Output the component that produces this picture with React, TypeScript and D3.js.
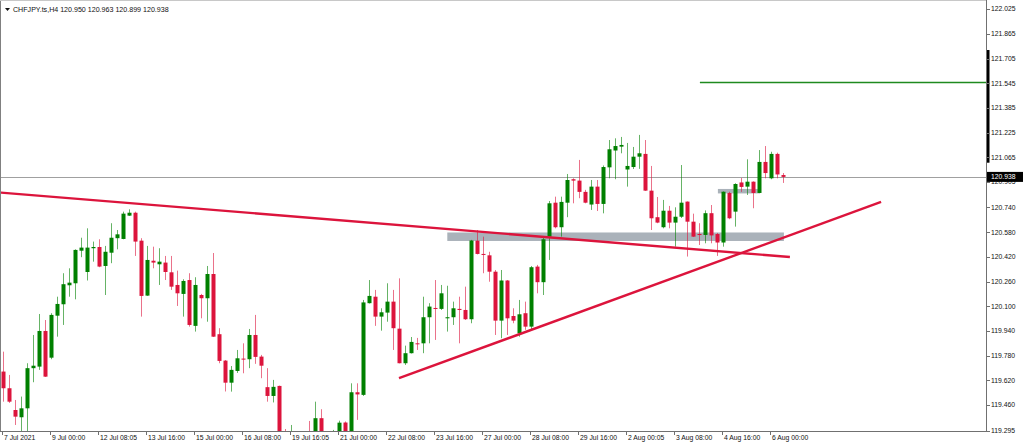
import React from "react";
import * as d3 from "d3";

// ---- data (H4 candles, CHFJPY) ----
const opens = [
  119.677, 119.569, 119.428, 119.381, 119.439, 119.699, 119.709, 119.940, 119.767, 120.039,
  120.113, 120.236, 120.249, 120.460, 120.322, 120.476, 120.484, 120.361, 120.447, 120.541,
  120.536, 120.687, 120.706, 120.525, 120.169, 120.395, 120.372, 120.383, 120.320, 120.238,
  120.180, 120.270, 119.973, 120.173, 120.152, 120.309, 119.919, 119.748, 119.605, 119.681,
  119.761, 119.757, 119.914, 119.774, 119.576, 119.519, 119.584, 119.286, 119.202, 119.182,
  119.234, 119.260, 119.195, 119.375, 119.247, 119.214, 119.253, 119.347, 119.260, 119.543,
  119.526, 120.120, 120.162, 120.033, 120.059, 120.130, 119.955, 119.731, 119.796, 119.860,
  119.860, 120.029, 120.089, 120.083, 120.022, 120.029, 120.083, 120.076, 120.016, 120.525,
  120.439, 120.430, 120.324, 120.007, 120.267, 120.037, 119.925, 120.055, 119.968, 120.357,
  120.256, 120.551, 120.771, 120.612, 120.771, 120.923, 120.914, 120.841, 120.759, 120.875,
  120.763, 121.000, 121.109, 121.134, 120.986, 121.002, 121.069, 121.087, 120.849, 120.677,
  120.612, 120.719, 120.642, 120.680, 120.778, 120.648, 120.568, 120.562, 120.703, 120.568,
  120.513, 120.834, 120.713, 120.902, 120.875, 120.907, 120.834, 121.035, 120.929, 121.087,
  120.950,
];
const highs = [
  119.806, 119.655, 119.493, 119.515, 119.731, 119.914, 120.050, 120.011, 120.055, 120.162,
  120.314, 120.346, 120.469, 120.544, 120.605, 120.519, 120.534, 120.491, 120.638, 120.594,
  120.713, 120.728, 120.713, 120.541, 120.491, 120.486, 120.476, 120.426, 120.426, 120.331,
  120.275, 120.314, 120.288, 120.180, 120.361, 120.445, 119.958, 119.752, 119.713, 119.817,
  119.860, 119.953, 120.044, 119.785, 119.699, 119.623, 119.586, 119.305, 119.331, 119.273,
  119.279, 119.357, 119.482, 119.433, 119.286, 119.299, 119.359, 119.354, 119.601, 119.601,
  120.141, 120.270, 120.206, 120.087, 120.249, 120.206, 120.281, 119.845, 119.901, 119.895,
  120.162, 120.120, 120.270, 120.238, 120.233, 120.130, 120.162, 120.227, 120.530, 120.594,
  120.551, 120.453, 120.335, 120.335, 120.270, 120.087, 120.141, 120.130, 120.361, 120.368,
  120.551, 120.782, 120.810, 120.810, 120.957, 120.929, 121.048, 120.854, 120.918, 120.918,
  121.012, 121.177, 121.188, 121.197, 121.158, 121.132, 121.210, 121.177, 121.009, 120.808,
  120.789, 120.750, 120.741, 121.015, 120.779, 120.700, 120.638, 120.721, 120.756, 120.575,
  120.844, 120.842, 120.897, 120.931, 121.052, 120.909, 121.112, 121.138, 121.101, 121.095,
  120.963,
];
const lows = [
  119.482, 119.474, 119.331, 119.260, 119.260, 119.608, 119.688, 119.642, 119.757, 119.903,
  119.979, 120.162, 120.145, 120.418, 120.267, 120.389, 120.353, 120.173, 120.379, 120.469,
  120.534, 120.685, 120.426, 120.033, 120.167, 120.346, 120.238, 120.270, 120.206, 120.102,
  120.033, 119.968, 119.936, 120.022, 120.000, 119.901, 119.731, 119.548, 119.547, 119.668,
  119.666, 119.699, 119.727, 119.634, 119.482, 119.477, 119.195, 119.234, 119.169, 119.137,
  119.156, 119.169, 119.176, 119.221, 119.182, 119.195, 119.234, 119.234, 119.247, 119.364,
  119.519, 120.118, 119.973, 119.942, 120.000, 119.817, 119.730, 119.720, 119.794, 119.817,
  119.796, 119.860, 119.882, 120.076, 119.936, 119.979, 119.860, 120.011, 119.990, 120.436,
  120.314, 120.259, 119.914, 119.893, 119.914, 119.990, 119.903, 119.947, 119.951, 120.184,
  120.173, 120.400, 120.605, 120.551, 120.677, 120.767, 120.800, 120.767, 120.724, 120.717,
  120.702, 120.929, 120.923, 121.091, 120.875, 120.989, 120.990, 120.847, 120.594, 120.638,
  120.605, 120.605, 120.486, 120.672, 120.422, 120.549, 120.497, 120.508, 120.508, 120.426,
  120.486, 120.664, 120.616, 120.841, 120.821, 120.735, 120.833, 120.929, 120.923, 120.929,
  120.899,
];
const closes = [
  119.569, 119.482, 119.385, 119.439, 119.699, 119.715, 119.940, 119.644, 120.044, 120.115,
  120.243, 120.253, 120.465, 120.480, 120.480, 120.484, 120.357, 120.453, 120.544, 120.566,
  120.700, 120.706, 120.519, 120.167, 120.400, 120.383, 120.389, 120.322, 120.227, 120.184,
  120.264, 119.979, 120.238, 120.152, 120.309, 119.903, 119.746, 119.605, 119.688, 119.763,
  119.756, 119.914, 119.772, 119.715, 119.519, 119.578, 119.234, 119.273, 119.260, 119.234,
  119.195, 119.208, 119.375, 119.247, 119.214, 119.253, 119.346, 119.260, 119.543, 119.529,
  120.125, 120.167, 120.033, 120.061, 120.130, 119.958, 119.731, 119.796, 119.869, 119.856,
  120.029, 120.098, 120.083, 120.184, 120.029, 120.087, 120.076, 120.016, 120.526, 120.439,
  120.434, 120.324, 120.007, 120.267, 120.022, 120.007, 120.048, 119.968, 120.353, 120.256,
  120.534, 120.767, 120.612, 120.776, 120.918, 120.914, 120.841, 120.771, 120.875, 120.763,
  121.002, 121.117, 121.138, 121.145, 121.009, 121.069, 121.091, 120.849, 120.670, 120.642,
  120.719, 120.642, 120.680, 120.771, 120.648, 120.551, 120.562, 120.703, 120.559, 120.513,
  120.842, 120.670, 120.892, 120.873, 120.907, 120.834, 121.035, 120.963, 121.087, 120.954,
  120.938,
];

const timeLabels = [
  "7 Jul 2021", "9 Jul 00:00", "12 Jul 08:05", "13 Jul 16:00", "15 Jul 00:00",
  "16 Jul 08:00", "19 Jul 16:05", "21 Jul 00:00", "22 Jul 08:00", "23 Jul 16:00",
  "27 Jul 00:00", "28 Jul 08:00", "29 Jul 16:00", "2 Aug 00:05", "3 Aug 08:00",
  "4 Aug 16:00", "6 Aug 00:00",
];
const timeLabelStep = 8;

const priceLabels = [
  "122.025", "121.865", "121.705", "121.545", "121.385", "121.225", "121.065", "120.905",
  "120.740", "120.580", "120.420", "120.260", "120.100", "119.940", "119.780", "119.620",
  "119.460", "119.295",
];

const symbolTitle = "CHFJPY.ts,H4";
const lastQuote = ["120.950", "120.963", "120.899", "120.938"];
const lastPrice = 120.938;

// trend lines (candle index, price)
const downTrend = [
  { i: -0.45, p: 120.837 },
  { i: 131.2, p: 120.419 },
];
const upTrend = [
  { i: 66.05, p: 119.634 },
  { i: 146.4, p: 120.776 },
];
// zones (rectangles)
const zones = [
  { i0: 74.1, i1: 130.2, p0: 120.578, p1: 120.523 },
  { i0: 119.2, i1: 126.2, p0: 120.86, p1: 120.831 },
];
const targetLevel = { i0: 116.2, p: 121.55 };
const axisMarker = { p0: 121.76, p1: 121.03 };

// ---- layout ----
const W = 1024;
const H = 447;
const plotRight = 986;
const plotBottom = 431;
const UP = "#008000";
const DOWN = "#DC143C";
const FONT = "'Liberation Sans', Arial, sans-serif";
const FS = 6.8;

export default function App() {
  const n = opens.length;
  const xs = d3.scaleLinear().domain([0, n - 1]).range([2.7, 2.7 + 6 * (n - 1)]);
  const ys = d3.scaleLinear().domain([119.292, 122.084]).range([plotBottom, 0]);
  const line = d3
    .line<{ i: number; p: number }>()
    .x((d) => xs(d.i))
    .y((d) => ys(d.p));

  const candles = d3.range(n).map((i) => {
    const px = Math.round(xs(i));
    const o = opens[i];
    const c = closes[i];
    const up = c >= o;
    const col = up ? UP : DOWN;
    const top = ys(Math.max(o, c));
    const bot = ys(Math.min(o, c));
    return (
      <g key={i}>
        <line
          x1={px + 0.5}
          x2={px + 0.5}
          y1={ys(highs[i])}
          y2={ys(lows[i])}
          stroke={col}
          strokeOpacity={0.6}
          strokeWidth={1}
        />
        <rect x={px - 1.5} y={top} width={4} height={Math.max(1, bot - top)} fill={col} />
      </g>
    );
  });

  return (
    <svg
      width={W}
      height={H}
      style={{ position: "absolute", left: 0, top: 0, background: "#fff" }}
      fontFamily={FONT}
    >
      <defs>
        <clipPath id="plot">
          <rect x={1} y={1} width={plotRight - 1} height={plotBottom - 1} />
        </clipPath>
      </defs>
      <rect x={0} y={0} width={W} height={H} fill="#fff" />

      <g clipPath="url(#plot)">
        {zones.map((z, k) => (
          <rect
            key={k}
            x={xs(z.i0)}
            y={ys(z.p0)}
            width={xs(z.i1) - xs(z.i0)}
            height={ys(z.p1) - ys(z.p0)}
            fill="#aab2ba"
          />
        ))}
        <line
          x1={0}
          x2={plotRight}
          y1={Math.round(ys(lastPrice)) + 0.5}
          y2={Math.round(ys(lastPrice)) + 0.5}
          stroke="#a0a0a0"
          strokeWidth={1}
        />
        {candles}
        <path d={line(downTrend) || ""} stroke={DOWN} strokeWidth={2.4} fill="none" />
        <path d={line(upTrend) || ""} stroke={DOWN} strokeWidth={2.4} fill="none" />
        <line
          x1={xs(targetLevel.i0)}
          x2={plotRight}
          y1={Math.round(ys(targetLevel.p)) + 0.5}
          y2={Math.round(ys(targetLevel.p)) + 0.5}
          stroke="#1f8a1f"
          strokeWidth={1.5}
        />
      </g>

      {/* frame */}
      <line x1={0.5} x2={0.5} y1={0} y2={plotBottom + 0.5} stroke="#808080" />
      <line x1={0} x2={plotRight + 0.5} y1={0.5} y2={0.5} stroke="#c8c8c8" />
      <line x1={0} x2={plotRight + 0.5} y1={plotBottom + 0.5} y2={plotBottom + 0.5} stroke="#707070" />
      <line x1={plotRight + 0.5} x2={plotRight + 0.5} y1={0} y2={plotBottom + 0.5} stroke="#707070" />

      {/* axis marker bar */}
      <rect
        x={plotRight + 1}
        y={ys(axisMarker.p0)}
        width={2.5}
        height={ys(axisMarker.p1) - ys(axisMarker.p0)}
        fill="#000"
      />

      {/* price axis */}
      {priceLabels.map((t) => {
        const y = ys(+t);
        return (
          <g key={t}>
            <line x1={plotRight} x2={plotRight + 4} y1={Math.round(y) + 0.5} y2={Math.round(y) + 0.5} stroke="#707070" />
            <text x={plotRight + 5} y={y} dy="0.35em" fontSize={FS} fill="#111">
              {t}
            </text>
          </g>
        );
      })}
      <rect x={plotRight + 1} y={ys(lastPrice) - 5} width={36} height={10} fill="#000" />
      <text x={plotRight + 5} y={ys(lastPrice)} dy="0.35em" fontSize={FS} fill="#fff">
        {lastPrice.toFixed(3)}
      </text>

      {/* time axis */}
      {timeLabels.map((t, k) => {
        const x = Math.round(xs(k * timeLabelStep)) - 0.5;
        return (
          <g key={t}>
            <line x1={x} x2={x} y1={plotBottom} y2={plotBottom + 4} stroke="#707070" />
            <text x={x + 1.5} y={plotBottom + 9} fontSize={FS} fill="#111">
              {t}
            </text>
          </g>
        );
      })}

      {/* title */}
      <path d="M5,8 L10,8 L7.5,11 Z" fill="#111" />
      <text x={13} y={10} dy="0.35em" fontSize={7.1} fill="#111">
        {symbolTitle + "  " + lastQuote.join(" ")}
      </text>
    </svg>
  );
}
